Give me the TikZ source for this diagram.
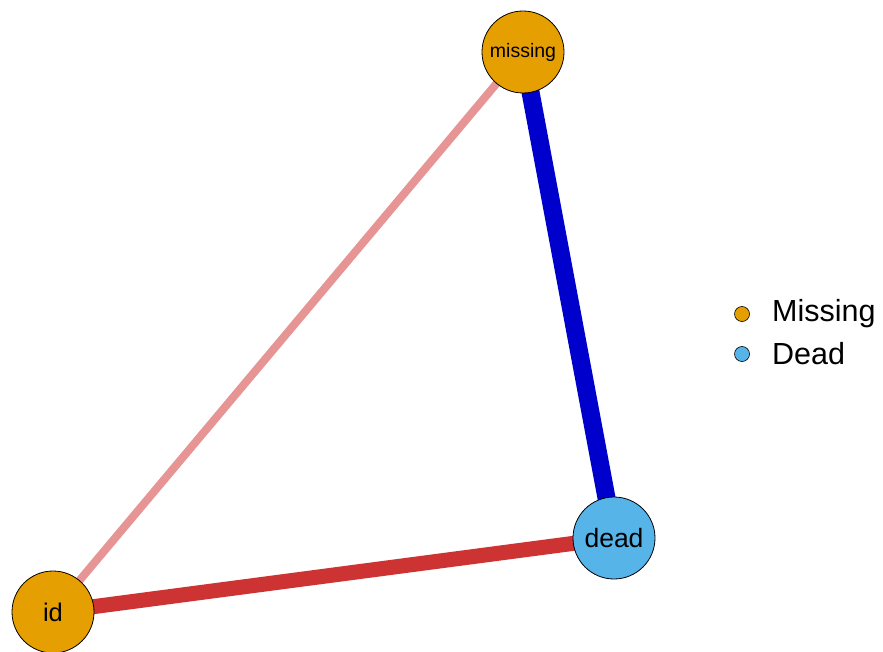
\documentclass[tikz,border=0pt]{standalone}
\usepackage{fontspec}
\setmainfont{Liberation Sans}
\usetikzlibrary{backgrounds}
\definecolor{nodeorange}{HTML}{E69F00}
\definecolor{nodeblue}{HTML}{56B4E9}
\definecolor{edgeblue}{HTML}{0000CD}
\definecolor{edgered}{HTML}{CD3333}
\definecolor{edgepink}{HTML}{E69494}

\begin{document}
\begin{tikzpicture}[x=1pt, y=-1pt,
    vertex/.style={circle, draw=black, line width=0.8pt, minimum size=82pt, inner sep=0pt},
    keydot/.style={circle, draw=black, line width=0.6pt, minimum size=15pt, inner sep=0pt},
    keytext/.style={anchor=west, font=\fontsize{30.5}{32}\selectfont, inner sep=0pt}]
    \useasboundingbox (0,0) rectangle (883,652);
    % vertices
    \node[vertex, fill=nodeorange, font=\fontsize{19.5}{20}\selectfont] (missing) at (523,52) {missing};
    \node[vertex, fill=nodeblue, font=\fontsize{26.5}{28}\selectfont] (dead) at (614,538) {dead};
    \node[vertex, fill=nodeorange, font=\fontsize{25.5}{27}\selectfont] (id) at (53,612) {id};
    % edges
    \begin{scope}[on background layer]
        \draw[edgepink, line width=8pt] (missing.center) -- (id.center);
        \draw[edgeblue, line width=18pt] (missing.center) -- (dead.center);
        \draw[edgered, line width=15pt] (id.center) -- (dead.center);
    \end{scope}
    % legend
    \node[keydot, fill=nodeorange] (keymissing) at (742,314) {};
    \node[keydot, fill=nodeblue] (keydead) at (742,354) {};
    \node[keytext] at (772,314) {Missing};
    \node[keytext] at (772,354) {Dead};
\end{tikzpicture}
\end{document}
